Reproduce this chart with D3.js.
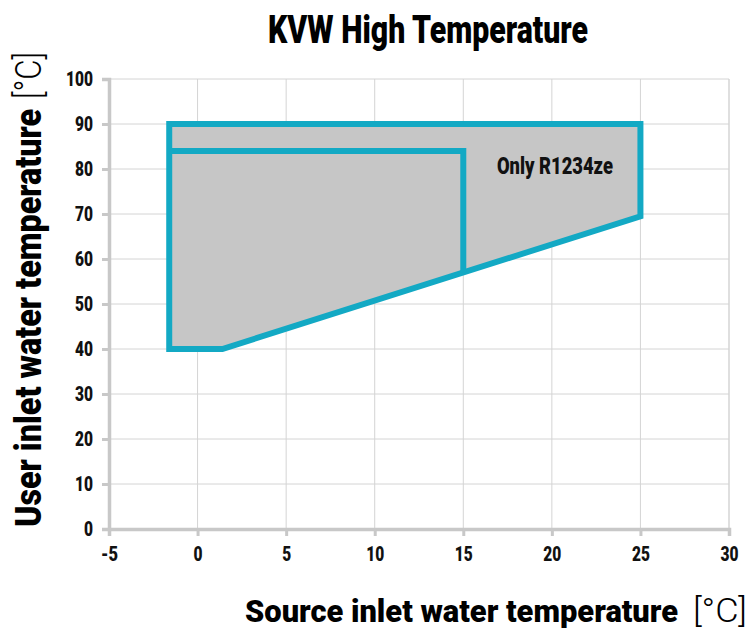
<!DOCTYPE html>
<html>
<head>
<meta charset="utf-8">
<script src="https://cdn.jsdelivr.net/npm/d3@7"></script>
<style>
  body { margin: 0; background: #fff; }
  text { font-family: Roboto, "DejaVu Sans", sans-serif; }
</style>
</head>
<body>
<div id="chart"></div>
<script>
const xTicks = [-5, 0, 5, 10, 15, 20, 25, 30];
const yTicks = [0, 10, 20, 30, 40, 50, 60, 70, 80, 90, 100];

// outer envelope (all refrigerants incl. R1234ze)
const outerX = [-1.6, 1.4, 25, 25, -1.6];
const outerY = [40, 40, 69.5, 90, 90];
// inner limit (other refrigerants)
const innerX = [-1.6, 15, 15];
const innerY = [84, 84, 57];

const label = { x: 16.9, y: 78.9, text: "Only R1234ze" };

const size = {
  width: 749,
  height: 629,
  margin: { top: 79, right: 20, bottom: 100, left: 109 }
};

const svg = d3.select("#chart").append("svg")
  .attr("width", size.width)
  .attr("height", size.height);

const xScale = d3.scaleLinear().domain([-5, 30])
  .range([size.margin.left, 729]);
const yScale = d3.scaleLinear().domain([0, 100])
  .range([529, size.margin.top]);

// squeeze text to the condensed width of the original font
function squeeze(sel, len) {
  sel.attr("textLength", len).attr("lengthAdjust", "spacingAndGlyphs");
}

// Grid
svg.append("g").selectAll("line")
  .data(xTicks.slice(1))
  .enter().append("line")
  .attr("x1", d => xScale(d)).attr("x2", d => xScale(d))
  .attr("y1", yScale(0)).attr("y2", yScale(100))
  .attr("stroke", "#d4d4d4").attr("stroke-width", d => d === 30 ? 1.5 : 1);

svg.append("g").selectAll("line")
  .data(yTicks.slice(1))
  .enter().append("line")
  .attr("x1", xScale(-5)).attr("x2", xScale(30))
  .attr("y1", d => yScale(d)).attr("y2", d => yScale(d))
  .attr("stroke", "#d4d4d4").attr("stroke-width", 1);

// Envelope
const pts = (xs, ys) => xs.map((x, i) => [xScale(x), yScale(ys[i])]);

svg.append("path")
  .attr("d", d3.line()(pts(outerX, outerY)) + "Z")
  .attr("fill", "#c6c6c6")
  .attr("stroke", "#13a9c4")
  .attr("stroke-width", 6)
  .attr("stroke-linejoin", "miter");

svg.append("path")
  .attr("d", d3.line()(pts(innerX, innerY)))
  .attr("fill", "none")
  .attr("stroke", "#13a9c4")
  .attr("stroke-width", 6);

svg.append("text")
  .attr("x", xScale(label.x)).attr("y", yScale(label.y))
  .attr("font-size", 23).attr("font-weight", 900)
  .attr("fill", "#111")
  .text(label.text)
  .call(squeeze, 116);

// Axes
const xAxis = svg.append("g")
  .attr("transform", `translate(0, ${yScale(0)})`)
  .call(d3.axisBottom(xScale).tickValues(xTicks).tickSize(7).tickPadding(10));
const yAxis = svg.append("g")
  .attr("transform", `translate(${xScale(-5)}, 0)`)
  .call(d3.axisLeft(yScale).tickValues(yTicks).tickSize(7).tickPadding(9));

[xAxis, yAxis].forEach(a => {
  a.select(".domain").attr("stroke", "#c8c8c8").attr("stroke-width", 3.5);
  a.selectAll(".tick line").attr("stroke", "#c8c8c8").attr("stroke-width", 3);
  a.selectAll(".tick text")
    .attr("font-size", 21).attr("font-weight", 900)
    .attr("fill", "#111")
    .style("font-family", "Roboto, 'DejaVu Sans', sans-serif");
});
xAxis.selectAll(".tick text").text(d => d < 0 ? "-" + Math.abs(d) : d);
[xAxis, yAxis].forEach(a => {
  a.selectAll(".tick text").each(function (d) {
    const n = String(Math.abs(d)).length;
    d3.select(this).call(squeeze, n * 9 + (d < 0 ? 8 : 0));
  });
});

// Title
svg.append("text")
  .attr("x", 268).attr("y", 43)
  .attr("font-size", 39).attr("font-weight", 900)
  .attr("fill", "#000")
  .text("KVW High Temperature")
  .call(squeeze, 320);

// X label
svg.append("text")
  .attr("x", 245).attr("y", 622)
  .attr("font-size", 31).attr("font-weight", 900)
  .attr("fill", "#000")
  .text("Source inlet water temperature")
  .call(squeeze, 433);
svg.append("text")
  .attr("x", 693).attr("y", 622)
  .attr("font-size", 33).attr("font-weight", 300)
  .attr("fill", "#000")
  .text("[°C]")
  .call(squeeze, 54);

// Y label
svg.append("text")
  .attr("transform", "translate(41, 527) rotate(-90)")
  .attr("font-size", 36).attr("font-weight", 900)
  .attr("fill", "#000")
  .text("User inlet water temperature")
  .call(squeeze, 418);
svg.append("text")
  .attr("transform", "translate(41, 99) rotate(-90)")
  .attr("font-size", 36).attr("font-weight", 300)
  .attr("fill", "#000")
  .text("[°C]")
  .call(squeeze, 47);
</script>
</body>
</html>
